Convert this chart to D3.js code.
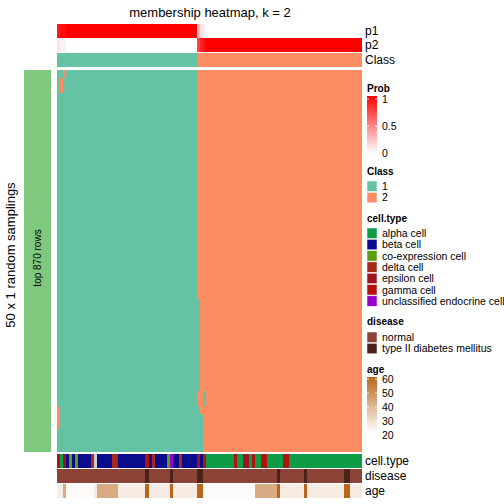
<!DOCTYPE html>
<html><head><meta charset="utf-8">
<script src="https://cdn.jsdelivr.net/npm/d3@7"></script>
<style>body{margin:0;background:#fff} svg{display:block;font-family:"Liberation Sans",Arial,Helvetica,sans-serif}</style>
</head><body><div id="chart"></div>
<script>
// ---------------- data ----------------
const nSamplings = 50;
// consensus class per sample (100 samples)
const sampleClass = [
 1,1,1,1,1,1,1,1,1,1, 1,1,1,1,1,1,1,1,1,1, 1,1,1,1,1,1,1,1,1,1, 1,1,1,1,1,1,1,1,1,1,
 1,1,1,1,1,1,2,2,2,2, 2,2,2,2,2,2,2,2,2,2, 2,2,2,2,2,2,2,2,2,2, 2,2,2,2,2,2,2,2,2,2,
 2,2,2,2,2,2,2,2,2,2, 2,2,2,2,2,2,2,2,2,2];
// membership probability of class 1 per sample
const probP1 = [
 0.9,0.95,0.95,1,1,1,1,1,1,1, 1,1,1,1,1,1,1,1,1,1, 1,1,1,1,1,1,1,1,1,1, 1,1,1,1,1,1,1,1,1,1,
 1,1,1,1,1,1,0.25,0.12,0.05,0, 0,0,0,0,0,0,0,0,0,0, 0,0,0,0,0,0,0,0,0,0, 0,0,0,0,0,0,0,0,0,0,
 0,0,0,0,0,0,0,0,0,0, 0,0,0,0,0,0,0,0,0,0];
// per-sampling deviations from the consensus: [firstRow, lastRow, sample, class]
const samplingDeviations = [
 [0,0,2,2],[1,2,1,2],[44,46,0,2],
 [30,41,46,1],[44,49,46,1],[42,43,48,1],[45,49,47,1]];
// cell type codes per sample
const cellTypeCodes = "gaebcbcbbbbdnbbbbbddbbbbbbbbbgbdbbbbcubbdbbbbbebgaaaaaaaaagaaeeagaaggaaaaaggaaaaaaaaaaaaaaaaaaaaaaaa".split("");
const cellTypeNames = {a:"alpha cell",b:"beta cell",c:"co-expression cell",d:"delta cell",e:"epsilon cell",g:"gamma cell",u:"unclassified endocrine cell",n:"NA"};
const cellTypeLegend = ["alpha cell","beta cell","co-expression cell","delta cell","epsilon cell","gamma cell","unclassified endocrine cell"];
const cellTypeColors = ["#0E9C46","#0B0B8E","#5C9E12","#A6291B","#9C1322","#B3110E","#9A00CC"];
// disease per sample: indices of type II diabetes samples
const t2dSamples = [29,37,46,47,72,81,94,95];
const diseaseLegend = ["normal","type II diabetes mellitus"];
const diseaseColors = ["#8C4337","#4A2219"];
// age per sample
const ages = [
 25,25,42,21,21,21,21,21,21,21, 21,21,25,42,42,42,42,42,42,42, 25,25,25,25,25,25,25,25,25,60,
 25,25,25,25,25,25,25,60,25,25, 25,25,25,25,25,25,60,60,21,21, 21,21,21,21,21,21,21,21,21,21,
 21,21,21,21,21,42,42,42,42,42, 42,42,60,25,25,25,25,25,25,25, 25,60,25,25,25,25,25,25,25,25,
 25,25,25,25,60,60,25,25,25,25];
const classLegend = ["1","2"];
const classColors = ["#66C2A5","#FC8D62"];
const probTicks = [0,0.5,1];
const ageTicks = [20,30,40,50,60];

// ---------------- drawing ----------------
const W = 504, H = 504;
const svg = d3.select("#chart").append("svg").attr("width",W).attr("height",H);
const samples = d3.range(sampleClass.length);
const x = d3.scaleBand().domain(samples).range([57,362]).paddingInner(0);
const yRow = d3.scaleBand().domain(d3.range(nSamplings)).range([70,452]);
const probColor = d3.scaleLinear().domain([0,1]).range(["#ffffff","#ff0000"]);
const classColor = d3.scaleOrdinal().domain([1,2]).range(classColors);
const ctColor = d3.scaleOrdinal().domain(cellTypeLegend.concat(["NA"])).range(cellTypeColors.concat(["#CCCCCC"]));
const ageColor = d3.scaleLinear().domain([20,60]).range(["#ffffff","#B8661C"]);
const disease = samples.map(i => t2dSamples.includes(i) ? 1 : 0);
const lastS = samples[samples.length-1];
const cw = d => (d === lastS ? x.bandwidth() : x.bandwidth()+0.6);

svg.append("text").attr("x",210).attr("y",17).attr("text-anchor","middle")
  .attr("font-size",13).text("membership heatmap, k = 2");

function annRow(y0,h,colorFn,label){
  const g = svg.append("g").attr("shape-rendering","crispEdges");
  g.selectAll("rect").data(samples).join("rect")
    .attr("x",d=>x(d)).attr("y",y0).attr("width",cw).attr("height",h)
    .attr("fill",colorFn);
  svg.append("text").attr("x",365).attr("y",y0+h/2).attr("dy","0.35em")
    .attr("font-size",12).text(label);
}
annRow(24,14,d=>probColor(probP1[d]),"p1");
annRow(38,14,d=>probColor(1-probP1[d]),"p2");
annRow(53,14,d=>classColor(sampleClass[d]),"Class");

// main membership heatmap
const cells = [];
for (let r=0;r<nSamplings;r++){
  for (const s of samples){
    let c = sampleClass[s];
    for (const [r0,r1,ss,cc] of samplingDeviations) if (ss===s && r>=r0 && r<=r1) c = cc;
    cells.push({r,s,c});
  }
}
svg.append("g").attr("shape-rendering","crispEdges").selectAll("rect").data(cells).join("rect")
  .attr("x",d=>x(d.s)).attr("y",d=>yRow(d.r))
  .attr("width",d=>cw(d.s)).attr("height",d=>yRow.bandwidth()+(d.r===nSamplings-1?0:0.6))
  .attr("fill",d=>classColor(d.c));

// left row-group bar
svg.append("rect").attr("x",24).attr("y",70).attr("width",27).attr("height",382).attr("fill","#7FC97F");
svg.append("text").attr("transform","translate(37.5,258) rotate(-90)").attr("text-anchor","middle")
  .attr("dy","0.35em").attr("font-size",10).text("top 870 rows");
svg.append("text").attr("transform","translate(10,255) rotate(-90)").attr("text-anchor","middle")
  .attr("dy","0.35em").attr("font-size",13).text("50 x 1 random samplings");

// bottom annotations
annRow(454,14,d=>ctColor(cellTypeNames[cellTypeCodes[d]]),"cell.type");
annRow(469,14,d=>diseaseColors[disease[d]],"disease");
annRow(484,14,d=>ageColor(ages[d]),"age");

// ---------------- legends ----------------
const LX = 367, TX = 382;
function title(y,t){ svg.append("text").attr("x",LX).attr("y",y).attr("dy","0.35em")
  .attr("font-size",10).attr("font-weight","bold").text(t); }
function gradient(id,y0,h,scale,domain,ticks,yPos){
  const defs = svg.append("defs");
  const lg = defs.append("linearGradient").attr("id",id).attr("x1",0).attr("y1",1).attr("x2",0).attr("y2",0);
  d3.range(11).forEach(i=>{ const v = domain[0]+(domain[1]-domain[0])*i/10;
    lg.append("stop").attr("offset",i/10).attr("stop-color",scale(v)); });
  svg.append("rect").attr("x",LX).attr("y",y0).attr("width",10).attr("height",h).attr("fill",`url(#${id})`);
  ticks.forEach(t=>{
    const yy = yPos(t);
    svg.append("line").attr("x1",LX).attr("x2",LX+2).attr("y1",yy).attr("y2",yy).attr("stroke","#fff").attr("stroke-width",0.8);
    svg.append("line").attr("x1",LX+8).attr("x2",LX+10).attr("y1",yy).attr("y2",yy).attr("stroke","#fff").attr("stroke-width",0.8);
    svg.append("text").attr("x",TX).attr("y",yy).attr("dy","0.35em").attr("font-size",10.5).text(t);
  });
}
function keys(y0,names,colors){
  names.forEach((n,i)=>{
    const yy = y0 + i*11.3;
    svg.append("rect").attr("x",LX).attr("y",yy).attr("width",10).attr("height",10.5)
      .attr("fill",colors[i]).attr("stroke","#fff").attr("stroke-width",0.5);
    svg.append("text").attr("x",TX).attr("y",yy+5.5).attr("dy","0.35em").attr("font-size",10.5).text(n);
  });
}
title(88,"Prob");
const probY = d3.scaleLinear().domain([0,1]).range([153,99]);
gradient("gProb",96,57,probColor,[0,1],probTicks,probY);
title(171,"Class");
keys(181,classLegend,classColors);
title(218,"cell.type");
keys(228,cellTypeLegend,cellTypeColors);
title(321,"disease");
keys(332,diseaseLegend,diseaseColors);
title(369,"age");
const ageY = d3.scaleLinear().domain([20,60]).range([435,379]);
gradient("gAge",377,56,ageColor,[20,60],ageTicks,ageY);
</script></body></html>
